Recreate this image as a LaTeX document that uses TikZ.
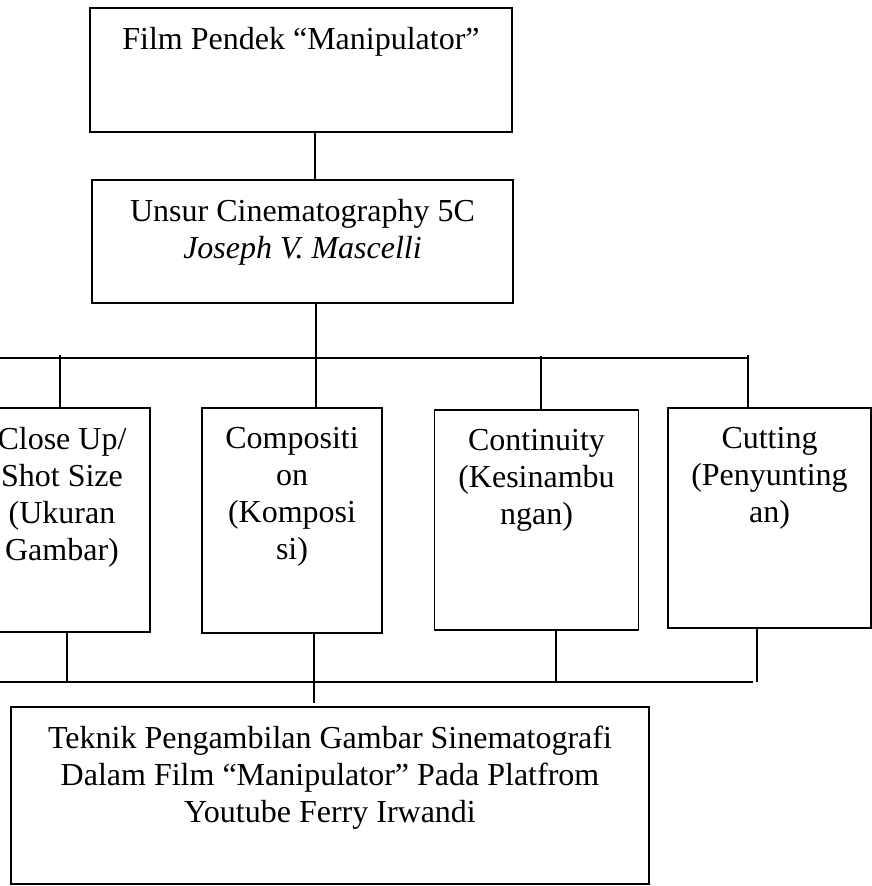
\documentclass[tikz,border=0pt]{standalone}
\usepackage{fontspec}
\setmainfont{Liberation Serif}
\usetikzlibrary{positioning, calc}

\begin{document}
\begin{tikzpicture}[
    x=1pt, y=-1pt,
    box/.style={rectangle, draw=black, line width=1.5pt, inner sep=0pt, outer sep=0pt},
    lbl/.style={anchor=north, inner sep=0pt, yshift=-19pt, align=center,
                font=\fontsize{32}{37}\selectfont},
    wire/.style={line width=1.5pt, color=black}
]
\useasboundingbox (0,0) rectangle (872,886);
\clip (0,0) rectangle (872,886);

% boxes
\node[box, minimum width=422pt, minimum height=124pt,
      label={[lbl]north:{Film Pendek “Manipulator”}}] (film) at (301,70) {};
\node[box, minimum width=421pt, minimum height=123pt,
      label={[lbl]north:{Unsur Cinematography 5C\\\textit{Joseph V. Mascelli}}}] (unsur) at (302.5,241.5) {};

\node[box, minimum width=176pt, minimum height=224pt,
      label={[lbl]north:{Close Up/\\Shot Size\\(Ukuran\\Gambar)}}] (closeup) at (62,520) {};
\node[box, minimum width=180pt, minimum height=225pt,
      label={[lbl]north:{Compositi\\on\\(Komposi\\si)}}] (compo) at (292,520.5) {};
\node[box, minimum width=204pt, minimum height=220pt,
      label={[lbl]north:{Continuity\\(Kesinambu\\ngan)}}] (contin) at (536.5,520) {};
\node[box, minimum width=203pt, minimum height=220pt,
      label={[lbl]north:{Cutting\\(Penyunting\\an)}}] (cutting) at (769.5,518) {};

\node[box, minimum width=638pt, minimum height=177pt,
      label={[lbl]north:{Teknik Pengambilan Gambar Sinematografi\\Dalam Film “Manipulator” Pada Platfrom\\Youtube Ferry Irwandi}}] (teknik) at (330,795.5) {};

% junction points
\coordinate (fc) at (315,0);
\coordinate (tbus) at (316,358);
\coordinate (tbusL) at (-5,358);
\coordinate (tbusR) at (748,358);
\coordinate (t1) at (60,355);
\coordinate (t3) at (541,356);
\coordinate (t4) at (748,355);
\coordinate (bbusL) at (-5,682);
\coordinate (bbusR) at (753,682);
\coordinate (b1) at (67,682);
\coordinate (b2) at (314,703);
\coordinate (b3) at (556,682);
\coordinate (b4) at (757,682);

% connectors
\draw[wire] (film.south -| fc) -- (unsur.north -| fc);
\draw[wire] (unsur.south -| tbus) -- (compo.north -| tbus);
\draw[wire] (tbusL) -- (tbusR);
\draw[wire] (t1) -- (closeup.north -| t1);
\draw[wire] (t3) -- (contin.north -| t3);
\draw[wire] (t4) -- (cutting.north -| t4);

\draw[wire] (closeup.south -| b1) -- (b1);
\draw[wire] (compo.south -| b2) -- (b2);
\draw[wire] (contin.south -| b3) -- (b3);
\draw[wire] (cutting.south -| b4) -- (b4);
\draw[wire] (bbusL) -- (bbusR);
\end{tikzpicture}
\end{document}
